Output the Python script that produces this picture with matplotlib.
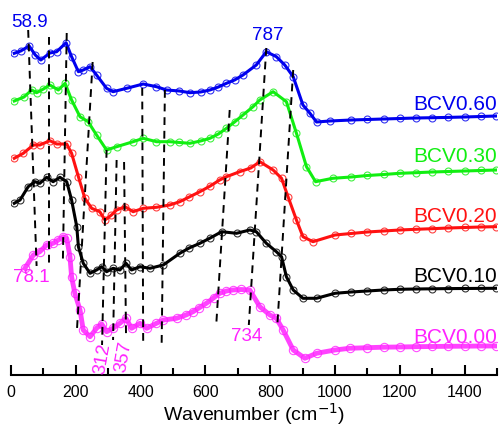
import numpy as np
import matplotlib
matplotlib.use('Agg')
import matplotlib.pyplot as plt
from matplotlib.ticker import MultipleLocator

plt.rcParams['font.family'] = ['Liberation Sans', 'DejaVu Sans']

# -----------------------------
# Spectra (wavenumber, offset intensity a.u.)
# -----------------------------
wn_060 = [10, 30, 56, 75, 92, 120, 141, 170, 187, 208, 223, 244, 264, 295, 315, 357, 408, 449, 480,
          520, 552, 585, 614, 640, 665, 690, 716, 757, 788, 819, 845, 871, 901, 922, 943, 984,
          1050, 1100, 1150, 1200, 1250, 1300, 1350, 1400, 1450, 1498]
int_060 = [321.7, 324, 329, 320, 315, 322, 323.3, 332.3, 318.3, 303.3, 305, 308.3, 300, 286.7, 283.3, 286.7, 291, 288.3, 285,
           284, 282.3, 283, 285, 288, 291.7, 295, 300, 310, 323.3, 318.3, 310, 298.3, 270, 262, 253, 254,
           255, 255.5, 256, 256.5, 257, 257.3, 257.6, 258, 258.5, 259]

wn_030 = [10, 40, 64, 79, 100, 120, 146, 167, 187, 213, 238, 264, 295, 326, 377, 408, 449, 490,
          520, 552, 585, 614, 640, 665, 690, 716, 747, 768, 809, 850, 881, 912, 940, 993,
          1050, 1100, 1150, 1200, 1250, 1300, 1350, 1400, 1450, 1498]
int_030 = [274, 278, 285, 282.3, 286, 290, 285, 291.7, 275, 258.3, 253.3, 240, 225, 228.3, 233.3, 236.7, 233.3, 233.3,
           232.5, 231.7, 234, 236.7, 241, 246.7, 253, 260, 268.3, 275, 283.3, 273.3, 241.7, 208.3, 193.3, 196.7,
           198, 199.5, 200.5, 201.7, 202.3, 203, 203.5, 204, 204.5, 205]

wn_020 = [10, 38, 69, 89, 120, 141, 172, 187, 208, 228, 249, 274, 290, 310, 326, 352, 377, 408, 449, 490,
          521, 550, 583, 615, 644, 665, 706, 740, 768, 809, 835, 855, 881, 901, 932, 1000,
          1050, 1100, 1150, 1200, 1250, 1300, 1350, 1400, 1450, 1498]
int_020 = [216.7, 221.7, 230, 230, 234.3, 231, 231, 221.7, 198.3, 176.7, 166.7, 163.3, 155, 160, 165, 168.3, 163.3, 166.7, 167.7, 170,
           173.3, 178, 183.3, 189, 195, 198.3, 203.3, 207, 213.3, 205, 196.7, 178.3, 155, 138.3, 133.3, 140,
           141.5, 143, 144, 145, 145.7, 146.3, 147, 147.5, 148, 148.3]

wn_010 = [10, 28, 53, 74, 89, 110, 130, 151, 172, 187, 203, 208, 223, 244, 264, 280, 295, 315, 336, 355, 372, 398, 429, 470,
          521, 550, 583, 615, 650, 696, 737, 757, 788, 819, 835, 850, 871, 901, 943, 1000,
          1050, 1100, 1150, 1200, 1250, 1300, 1350, 1400, 1450, 1498]
int_010 = [171.7, 175, 188.3, 193.3, 191.7, 197.7, 193.3, 197.7, 193.3, 175, 148.3, 128.3, 111.7, 101.7, 105, 108.3, 103.3, 106.7, 105, 111.7, 105, 108.3, 106.7, 110,
           121.7, 127, 131.7, 137, 143.3, 141.7, 145, 143.3, 131.7, 123.3, 118.3, 98.3, 85, 76.7, 76.7, 81.7,
           83, 84, 85, 85.7, 86, 86.2, 86.4, 86.5, 86.6, 86.7]

wn_000 = [43, 69, 89, 110, 130, 146, 161, 172, 182, 187, 197, 213, 223, 244, 264, 280, 295, 315, 336, 355, 372, 398, 419, 449, 470,
          511, 540, 562, 580, 603, 625, 644, 665, 685, 710, 737, 768, 799, 819, 840, 871, 907, 943, 1000,
          1045, 1100, 1150, 1200, 1251, 1300, 1350, 1400, 1450, 1498]
int_000 = [106.7, 120, 123.3, 130, 131.7, 135, 138.3, 136.7, 118.3, 98.3, 81.7, 65, 45, 38.3, 46.7, 51, 43.3, 46.7, 51.7, 56.7, 46.7, 51.7, 46.7, 51.7, 55,
           56.7, 60, 63.3, 67, 71.7, 77, 81.7, 84, 85, 85.5, 85, 68.3, 60, 56.7, 45, 25, 16.7, 21.7, 25,
           26.7, 27.3, 27.8, 28, 28.3, 28.5, 28.7, 28.8, 29, 29]

sample_names = ['BCV0.60', 'BCV0.30', 'BCV0.20', 'BCV0.10', 'BCV0.00']
colors = ['#0000ee', '#11ee11', '#ff1111', '#000000', '#ff22ff']
label_y = [265, 213, 153, 93, 32]

# peak guide lines: (wn top, int top, wn bottom, int bottom)
guides = [(53, 345, 79, 109), (118, 338, 118, 111), (172, 342, 160, 112), (252, 313, 203, 42),
          (295, 225, 281, 30), (326, 215, 315, 35), (349, 213, 355, 40), (405, 287, 408, 30),
          (475, 285, 465, 32), (675, 265, 634, 53), (788, 327, 734, 50), (871, 305, 822, 50)]

# -----------------------------
# Plot
# -----------------------------
fig = plt.figure(figsize=(5.0, 4.29), dpi=100)
ax = fig.add_axes([0.022, 0.1259, 0.972, 0.8741])

spectra = [(wn_060, int_060), (wn_030, int_030), (wn_020, int_020), (wn_010, int_010), (wn_000, int_000)]
for i, ((wn, inten), c) in enumerate(zip(spectra, colors)):
    pink = (i == 4)
    ax.plot(wn, inten, 'o', mfc='none', mec=c, ms=6 if pink else 5, mew=0.8, alpha=0.8, zorder=3)
    ax.plot(wn, inten, '-', color=c, lw=3.5 if pink else 2.2, alpha=0.85 if pink else 1, zorder=4)

for x0, y0, x1, y1 in guides:
    ax.plot([x0, x1], [y0, y1], color='black', lw=1.4, dashes=(4, 3), zorder=5)

for name, c, y in zip(sample_names, colors, label_y):
    ax.text(1500, y, name, color=c, fontsize=15, ha='right', va='baseline', zorder=6)

ax.text(2, 348, '58.9', color=colors[0], fontsize=13.5, ha='left', va='baseline')
ax.text(791, 335, '787', color=colors[0], fontsize=13.5, ha='center', va='baseline')
ax.text(7, 93, '78.1', color=colors[4], fontsize=13.5, ha='left', va='baseline')
ax.text(728, 34, '734', color=colors[4], fontsize=13.5, ha='center', va='baseline')
ax.text(284, 16, '312', color=colors[4], fontsize=13.5, ha='center', va='center', rotation=80)
ax.text(348, 18, '357', color=colors[4], fontsize=13.5, ha='center', va='center', rotation=80)

ax.set_xlim(0, 1500)
ax.set_ylim(0, 375)
for s in ['left', 'right', 'top']:
    ax.spines[s].set_visible(False)
ax.spines['bottom'].set_linewidth(1.5)
ax.set_yticks([])
ax.xaxis.set_major_locator(MultipleLocator(200))
ax.xaxis.set_minor_locator(MultipleLocator(100))
ax.tick_params(axis='x', which='major', direction='in', length=7, width=1.5, labelsize=11.5, pad=7)
ax.tick_params(axis='x', which='minor', direction='in', length=5, width=1.5)
ax.set_xlabel('Wavenumber (cm$^{-1}$)', fontsize=14, labelpad=1)

plt.savefig('out.png', dpi=100)
